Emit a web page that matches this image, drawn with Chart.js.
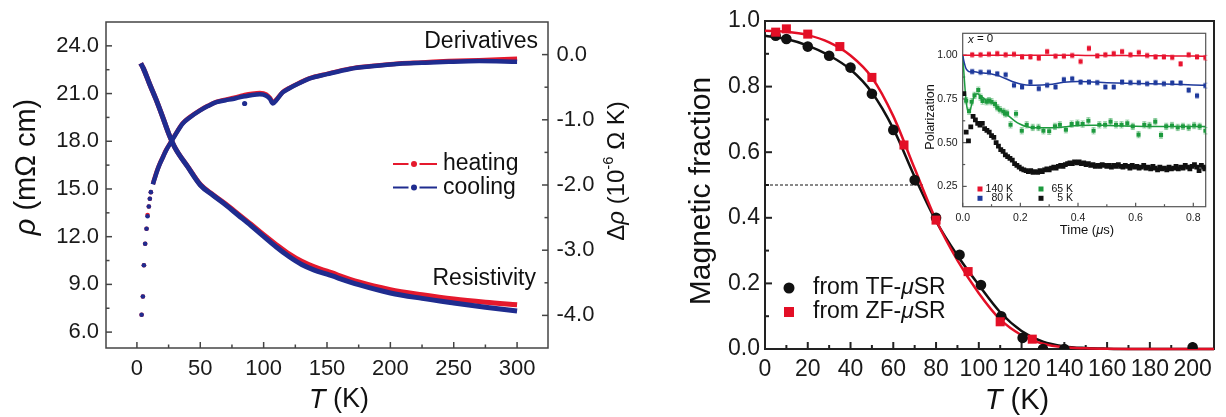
<!DOCTYPE html>
<html>
<head>
<meta charset="utf-8">
<script src="https://cdn.jsdelivr.net/npm/chart.js@4.4.0/dist/chart.umd.min.js"></script>
<style>
  body { margin: 0; background: #fff; width: 1226px; height: 417px; overflow: hidden; position: relative; }
  canvas { position: absolute; }
</style>
</head>
<body>
<canvas id="left" width="640" height="417" style="left:0;top:0"></canvas>
<canvas id="right" width="586" height="417" style="left:640px;top:0"></canvas>
<canvas id="inset" width="298" height="218" style="left:915px;top:22px"></canvas>
<script>
const FONT = '"Liberation Sans", Arial, sans-serif';
Chart.defaults.font.family = FONT;
Chart.defaults.color = "#1a1a1a";

// ---- left panel: resistivity + derivative ----
const rhoT = [3, 5, 10, 15, 20, 25, 30, 40, 50, 60, 70, 80, 90, 100, 110, 120, 130, 140, 150, 175, 200, 225, 250, 275, 300];
const rhoHeat = [22.9, 22.6, 21.6, 20.65, 19.6, 18.5, 17.6, 16.42, 15.28, 14.64, 14.05, 13.42, 12.78, 12.12, 11.5, 10.92, 10.45, 10.1, 9.83, 9.15, 8.67, 8.35, 8.08, 7.88, 7.72];
const rhoCool = [22.9, 22.6, 21.6, 20.65, 19.6, 18.5, 17.6, 16.4, 15.25, 14.6, 14.0, 13.35, 12.7, 12.02, 11.35, 10.75, 10.25, 9.9, 9.64, 8.98, 8.46, 8.12, 7.83, 7.56, 7.32];

const dLowT = [3.7, 4.7, 5.5, 6.5, 7.6, 8.4, 9.4, 10.2, 11.0];
const dLowHeat = [-3.99, -3.71, -3.23, -2.90, -2.67, -2.46, -2.33, -2.21, -2.11];
const dLowCool = [-3.99, -3.71, -3.23, -2.90, -2.67, -2.48, -2.33, -2.21, -2.11];
const dT = [12.6, 14, 16, 18, 20.5, 23, 26.8, 30, 36, 42, 49.6, 56, 62.7, 70, 75.6, 80, 85, 91, 97, 102, 105, 107.3, 110, 115, 120, 128, 136, 150, 168, 185, 207, 225, 246, 270, 300];
const dHeat = [-1.985, -1.895, -1.775, -1.675, -1.57, -1.465, -1.34, -1.235, -1.055, -0.955, -0.855, -0.785, -0.725, -0.69, -0.665, -0.645, -0.62, -0.60, -0.59, -0.61, -0.665, -0.735, -0.69, -0.575, -0.515, -0.435, -0.365, -0.295, -0.215, -0.175, -0.135, -0.12, -0.10, -0.085, -0.065];
const dCool = [-1.99, -1.9, -1.78, -1.68, -1.575, -1.47, -1.345, -1.24, -1.06, -0.96, -0.86, -0.79, -0.73, -0.70, -0.68, -0.66, -0.64, -0.62, -0.61, -0.63, -0.68, -0.75, -0.70, -0.58, -0.52, -0.44, -0.37, -0.30, -0.22, -0.18, -0.14, -0.125, -0.11, -0.10, -0.11];
const strayT = [85];
const strayCool = [-0.75];
const runLabels = ["heating", "cooling"];
const tempTicksL = [0, 50, 100, 150, 200, 250, 300];
const rhoTicks = [6, 9, 12, 15, 18, 21, 24];
const dTicks = [-4, -3, -2, -1, 0];

// ---- right panel: magnetic fraction ----
const tfT = [5, 10, 20, 30, 40, 50, 60, 70, 80, 91, 101, 110.5, 120.5, 130, 140, 200];
const tfFrac = [0.955, 0.945, 0.922, 0.894, 0.858, 0.778, 0.668, 0.515, 0.40, 0.287, 0.195, 0.10, 0.034, 0.0, 0.0, 0.005];
const zfT = [5, 10, 20, 35, 50, 65, 80, 95, 110, 125];
const zfFrac = [0.966, 0.976, 0.96, 0.922, 0.828, 0.622, 0.393, 0.236, 0.083, 0.03];
const fitT = [0, 10, 20, 30, 40, 50, 60, 70, 80, 90, 100, 110, 120, 130, 140, 150, 160, 170, 180, 190, 200, 210];
const tfFit = [0.955, 0.945, 0.925, 0.895, 0.852, 0.782, 0.672, 0.525, 0.39, 0.285, 0.195, 0.112, 0.055, 0.022, 0.008, 0.003, 0.001, 0, 0, 0, 0, 0];
const zfFit = [0.97, 0.967, 0.957, 0.935, 0.895, 0.828, 0.71, 0.55, 0.393, 0.27, 0.17, 0.09, 0.042, 0.016, 0.005, 0.002, 0.0005, 0, 0, 0, 0, 0];
const halfT = [0, 74.5];
const halfFrac = [0.5, 0.5];
const methodLabels = ["from TF-", "from ZF-"];
const tempTicksR = [0, 20, 40, 60, 80, 100, 120, 140, 160, 180, 200];
const fracTicks = [0, 0.2, 0.4, 0.6, 0.8, 1.0];

// ---- inset: ZF polarization ----
const binT = [0.033, 0.062, 0.091, 0.120, 0.149, 0.178, 0.206, 0.235, 0.264, 0.293, 0.322, 0.351, 0.380, 0.409, 0.438, 0.467, 0.495, 0.524, 0.553, 0.582, 0.611, 0.640, 0.669, 0.698, 0.727, 0.756, 0.784, 0.813, 0.842];
const p140 = [1.002, 1.002, 1.005, 1.009, 1.002, 1.005, 0.99, 0.99, 0.983, 1.02, 0.994, 0.994, 0.998, 0.964, 1.039, 0.996, 1.002, 1.009, 1.02, 1.002, 1.015, 0.998, 0.99, 0.99, 0.987, 0.95, 1.002, 0.99, 0.985];
const p80 = [0.906, 0.902, 0.902, 0.893, 0.888, 0.828, 0.818, 0.846, 0.809, 0.828, 0.818, 0.86, 0.865, 0.846, 0.846, 0.843, 0.818, 0.818, 0.846, 0.843, 0.843, 0.837, 0.843, 0.837, 0.841, 0.841, 0.80, 0.768, 0.826];
const t65 = [0.012, 0.022, 0.031, 0.041, 0.054, 0.062, 0.069, 0.083, 0.091, 0.100, 0.112, 0.120, 0.129, 0.141, 0.147, 0.154, 0.166, 0.185, 0.205, 0.222, 0.243, 0.263, 0.280, 0.300, 0.320, 0.337, 0.358, 0.378, 0.398, 0.416, 0.436, 0.454, 0.474, 0.494, 0.513, 0.532, 0.551, 0.571, 0.590, 0.610, 0.630, 0.648, 0.668, 0.688, 0.706, 0.726, 0.746, 0.764, 0.784, 0.803, 0.822, 0.842];
const p65 = [0.74, 0.68, 0.734, 0.77, 0.80, 0.76, 0.738, 0.734, 0.74, 0.734, 0.72, 0.70, 0.688, 0.678, 0.665, 0.668, 0.602, 0.665, 0.568, 0.602, 0.587, 0.587, 0.568, 0.565, 0.593, 0.602, 0.574, 0.606, 0.611, 0.606, 0.625, 0.568, 0.602, 0.602, 0.62, 0.602, 0.602, 0.611, 0.593, 0.546, 0.602, 0.598, 0.62, 0.543, 0.593, 0.598, 0.587, 0.593, 0.587, 0.598, 0.593, 0.568];
const t5 = [0.004, 0.012, 0.020, 0.028, 0.036, 0.044, 0.052, 0.060, 0.068, 0.076,
  0.084, 0.092, 0.100, 0.108, 0.116, 0.124, 0.132, 0.140, 0.148, 0.156,
  0.164, 0.172, 0.180, 0.188, 0.196, 0.204, 0.212, 0.220, 0.228, 0.236,
  0.244, 0.252, 0.260, 0.268, 0.276, 0.284, 0.292, 0.300, 0.308, 0.316,
  0.324, 0.332, 0.340, 0.348, 0.356, 0.364, 0.372, 0.380, 0.388, 0.396,
  0.404, 0.412, 0.420, 0.428, 0.436, 0.444, 0.452, 0.460, 0.468, 0.476,
  0.484, 0.492, 0.500, 0.508, 0.516, 0.524, 0.532, 0.540, 0.548, 0.556,
  0.564, 0.572, 0.580, 0.588, 0.596, 0.604, 0.612, 0.620, 0.628, 0.636,
  0.644, 0.652, 0.660, 0.668, 0.676, 0.684, 0.692, 0.700, 0.708, 0.716,
  0.724, 0.732, 0.740, 0.748, 0.756, 0.764, 0.772, 0.780, 0.788, 0.796,
  0.804, 0.812, 0.820, 0.828, 0.836, 0.840];
const p5 = [0.78, 0.56, 0.51, 0.59, 0.65, 0.63, 0.61, 0.60, 0.61, 0.58,
  0.57, 0.56, 0.54, 0.53, 0.50, 0.48, 0.46, 0.45, 0.43, 0.42,
  0.41, 0.40, 0.38, 0.37, 0.36, 0.35, 0.345, 0.34, 0.335, 0.34,
  0.33, 0.335, 0.33, 0.34, 0.335, 0.345, 0.35, 0.345, 0.355, 0.36,
  0.355, 0.365, 0.37, 0.365, 0.375, 0.38, 0.385, 0.38, 0.39, 0.385,
  0.39, 0.38, 0.385, 0.375, 0.38, 0.37, 0.375, 0.365, 0.37, 0.365,
  0.375, 0.37, 0.365, 0.37, 0.36, 0.37, 0.365, 0.375, 0.365, 0.36,
  0.37, 0.365, 0.355, 0.37, 0.36, 0.365, 0.355, 0.36, 0.37, 0.355,
  0.36, 0.35, 0.365, 0.355, 0.345, 0.36, 0.35, 0.355, 0.345, 0.36,
  0.35, 0.355, 0.365, 0.35, 0.36, 0.355, 0.37, 0.36, 0.35, 0.365,
  0.375, 0.36, 0.34, 0.37, 0.36, 0.35];
const fitTime = [0, 0.005, 0.01, 0.015, 0.02, 0.025, 0.03, 0.04, 0.05, 0.06, 0.08, 0.1, 0.12, 0.15, 0.18, 0.2, 0.22, 0.25, 0.3, 0.35, 0.4, 0.45, 0.5, 0.6, 0.7, 0.8, 0.843];
const fit140 = [1, 1, 1, 1, 1, 1, 1, 1, 1, 1, 1, 1, 1, 1, 1, 1, 1, 1, 1, 0.999, 0.999, 0.998, 0.998, 0.997, 0.996, 0.995, 0.994];
const fit80 = [1, 0.96, 0.93, 0.915, 0.908, 0.905, 0.905, 0.905, 0.903, 0.90, 0.897, 0.893, 0.885, 0.865, 0.845, 0.835, 0.83, 0.828, 0.832, 0.845, 0.85, 0.847, 0.843, 0.838, 0.835, 0.83, 0.828];
const fit65 = [1, 0.88, 0.77, 0.70, 0.675, 0.68, 0.71, 0.765, 0.78, 0.77, 0.745, 0.73, 0.705, 0.665, 0.625, 0.605, 0.592, 0.585, 0.585, 0.59, 0.598, 0.6, 0.598, 0.594, 0.592, 0.592, 0.592];
const pErr = [0.014, 0.014, 0.018];
const insetLabels = ["140 K", "80 K", "65 K", "5 K"];
const timeTicks = [0, 0.2, 0.4, 0.6, 0.8];
const polTicks = [0.25, 0.5, 0.75, 1.0];

const RED = "#e5192d", BLUE = "#1f2c8f";
const MRED = "#e30f26";
const IRED = "#e8132f", IBLUE = "#1f3a9c", IGREEN = "#1d9a3e", IBLACK = "#111";

const pts = (xs, ys) => xs.map((x, i) => ({ x: x, y: ys[i] }));

// text with italic / superscript pieces, centred on (x, y)
function rich(ctx, x, y, rot, parts, size, align) {
  ctx.save();
  ctx.translate(x, y);
  ctx.rotate(rot);
  const fontOf = p => (p[1] === "i" ? "italic " : "") + (p[1] === "s" ? size * 0.62 : size) + "px " + FONT;
  let w = 0;
  parts.forEach(p => { ctx.font = fontOf(p); w += ctx.measureText(p[0]).width; });
  let cx = align === "left" ? 0 : align === "right" ? -w : -w / 2;
  ctx.textBaseline = "middle";
  ctx.textAlign = "left";
  ctx.fillStyle = "#111";
  parts.forEach(p => {
    ctx.font = fontOf(p);
    ctx.fillText(p[0], cx, p[1] === "s" ? -size * 0.33 : 0);
    cx += ctx.measureText(p[0]).width;
  });
  ctx.restore();
}

// frame round the plot area plus inward major/minor ticks
function frame(opts) {
  return {
    id: "frame",
    beforeDatasetsDraw(chart) {
      const ctx = chart.ctx, a = chart.chartArea;
      ctx.save();
      if (opts.fill) {
        ctx.fillStyle = "#fff";
        ctx.fillRect(a.left, a.top, a.right - a.left, a.bottom - a.top);
      }
      ctx.strokeStyle = opts.color;
      ctx.lineWidth = opts.width;
      ctx.strokeRect(a.left, a.top, a.right - a.left, a.bottom - a.top);
      opts.axes.forEach(([id, side]) => {
        const s = chart.scales[id];
        const major = s.ticks.map(t => t.value);
        const minor = [];
        for (let i = 0; i < major.length - 1; i++) minor.push((major[i] + major[i + 1]) / 2);
        const mark = (v, len) => {
          const p = s.getPixelForValue(v);
          ctx.beginPath();
          if (side === "bottom") { ctx.moveTo(p, a.bottom); ctx.lineTo(p, a.bottom - len); }
          if (side === "left") { ctx.moveTo(a.left, p); ctx.lineTo(a.left + len, p); }
          if (side === "right") { ctx.moveTo(a.right, p); ctx.lineTo(a.right - len, p); }
          ctx.stroke();
        };
        major.forEach(v => mark(v, opts.major));
        minor.forEach(v => mark(v, opts.minor));
      });
      ctx.restore();
    }
  };
}

function axis(min, max, list, fmt, pad, size, fit) {
  return {
    type: "linear", min: min, max: max,
    grid: { display: false, drawTicks: false },
    border: { display: false },
    ticks: { autoSkip: false, maxRotation: 0, minRotation: 0,
      padding: pad, font: { size: size }, color: "#1a1a1a", callback: fmt },
    afterBuildTicks: s => { s.ticks = list.map(v => ({ value: v })); },
    afterFit: fit
  };
}

// ================= left chart =================
// Chart.js paints the first dataset on top, so cooling (blue) comes first
new Chart(document.getElementById("left"), {
  type: "scatter",
  data: {
    datasets: [
      { data: pts(strayT, strayCool), yAxisID: "yR", pointRadius: 2.6, backgroundColor: BLUE, borderWidth: 0 },
      { data: pts(dLowT, dLowCool), yAxisID: "yR", pointRadius: 2.3, backgroundColor: BLUE, borderWidth: 0 },
      { data: pts(dT, dCool), yAxisID: "yR", showLine: true, borderColor: BLUE, borderWidth: 4.5, pointRadius: 0, cubicInterpolationMode: "monotone" },
      { data: pts(rhoT, rhoCool), yAxisID: "yL", showLine: true, borderColor: BLUE, borderWidth: 5, pointRadius: 0, cubicInterpolationMode: "monotone" },
      { data: pts(dLowT, dLowHeat), yAxisID: "yR", pointRadius: 2.3, backgroundColor: RED, borderWidth: 0 },
      { data: pts(dT, dHeat), yAxisID: "yR", showLine: true, borderColor: RED, borderWidth: 4.5, pointRadius: 0, cubicInterpolationMode: "monotone" },
      { data: pts(rhoT, rhoHeat), yAxisID: "yL", showLine: true, borderColor: RED, borderWidth: 5, pointRadius: 0, cubicInterpolationMode: "monotone" }
    ]
  },
  options: {
    responsive: false, animation: false,
    layout: { padding: { top: 22, left: 0, right: 0, bottom: 0 } },
    plugins: { legend: { display: false }, tooltip: { enabled: false } },
    scales: {
      x: axis(-24.4, 324.4, tempTicksL, v => v, 8, 22, s => { s.height = 69; }),
      yL: Object.assign(axis(5, 25.5, rhoTicks, v => v.toFixed(1), 7, 22, s => { s.width = 106; }), { position: "left" }),
      yR: Object.assign(axis(-4.5, 0.5, dTicks, v => v.toFixed(1), 8.5, 22, s => { s.width = 92; }), { position: "right" })
    }
  },
  plugins: [
    frame({ color: "#444", width: 1.5, major: 6, minor: 3.5, axes: [["x", "bottom"], ["yL", "left"], ["yR", "right"]] }),
    {
      id: "leftText",
      afterDraw(chart) {
        const ctx = chart.ctx;
        rich(ctx, 339, 400, 0, [["T", "i"], [" (K)", ""]], 27);
        rich(ctx, 27, 167, -Math.PI / 2, [["ρ", "i"], [" (mΩ cm)", ""]], 29);
        rich(ctx, 617, 171, -Math.PI / 2, [["Δ", ""], ["ρ", "i"], [" (10", ""], ["-6", "s"], [" Ω K)", ""]], 24);
        rich(ctx, 538, 42, 0, [["Derivatives", ""]], 23, "right");
        rich(ctx, 536, 279, 0, [["Resistivity", ""]], 23, "right");
        [RED, BLUE].forEach((col, i) => {
          const y = 164 + i * 23.5;
          ctx.save();
          ctx.strokeStyle = col; ctx.lineWidth = 2;
          ctx.beginPath(); ctx.moveTo(393, y); ctx.lineTo(408.5, y); ctx.moveTo(419.5, y); ctx.lineTo(437, y); ctx.stroke();
          ctx.fillStyle = col;
          ctx.beginPath(); ctx.arc(414, y, 3, 0, Math.PI * 2); ctx.fill();
          ctx.restore();
          rich(ctx, 443, y, 0, [[runLabels[i], ""]], 23, "left");
        });
      }
    }
  ]
});

// ================= right chart =================
new Chart(document.getElementById("right"), {
  type: "scatter",
  data: {
    datasets: [
      { data: pts(zfT, zfFrac), pointRadius: 6.4, pointStyle: "rect", backgroundColor: MRED, borderWidth: 0 },
      { data: pts(tfT, tfFrac), pointRadius: 5.3, backgroundColor: "#111", borderWidth: 0 },
      { data: pts(fitT, zfFit), showLine: true, borderColor: MRED, borderWidth: 2.5, pointRadius: 0, cubicInterpolationMode: "monotone", clip: false },
      { data: pts(fitT, tfFit), showLine: true, borderColor: "#111", borderWidth: 2.5, pointRadius: 0, cubicInterpolationMode: "monotone", clip: false },
      { data: pts(halfT, halfFrac), showLine: true, borderColor: "#111", borderWidth: 1, borderDash: [3, 2], pointRadius: 0 }
    ]
  },
  options: {
    responsive: false, animation: false,
    layout: { padding: { top: 21, left: 0, right: 12, bottom: 0 } },
    plugins: { legend: { display: false }, tooltip: { enabled: false } },
    scales: {
      x: axis(0, 210, tempTicksR, v => v, 7, 23, s => { s.height = 68; }),
      y: Object.assign(axis(0, 1, fracTicks, v => v.toFixed(1), 5, 23, s => { s.width = 125; }), { position: "left" })
    }
  },
  plugins: [
    frame({ color: "#222", width: 2, major: 7, minor: 4, axes: [["x", "bottom"], ["y", "left"]] }),
    {
      id: "rightText",
      afterDraw(chart) {
        const ctx = chart.ctx;
        rich(ctx, 377, 401, 0, [["T", "i"], [" (K)", ""]], 29);
        rich(ctx, 62, 191, -Math.PI / 2, [["Magnetic fraction", ""]], 30);
        ctx.save();
        ctx.fillStyle = "#111";
        ctx.beginPath(); ctx.arc(149, 288, 5.5, 0, Math.PI * 2); ctx.fill();
        ctx.fillStyle = MRED;
        ctx.fillRect(144, 307, 10, 10);
        ctx.restore();
        [288, 312].forEach((y, i) => {
          rich(ctx, 173, y, 0, [[methodLabels[i], ""], ["μ", "i"], ["SR", ""]], 23, "left");
        });
      }
    }
  ]
});

// ================= inset =================
function errSet(t, p, col, err) {
  return { data: pts(t, p), pointRadius: 2.9, pointStyle: "rect", backgroundColor: col, borderWidth: 0, err: err };
}
new Chart(document.getElementById("inset"), {
  type: "scatter",
  data: {
    datasets: [
      errSet(binT, p140, IRED, pErr[0]),
      errSet(binT, p80, IBLUE, pErr[1]),
      errSet(t65, p65, IGREEN, pErr[2]),
      { data: pts(t5, p5), pointRadius: 3.4, pointStyle: "rect", backgroundColor: IBLACK, borderWidth: 0 },
      { data: pts(fitTime, fit140), showLine: true, borderColor: IRED, borderWidth: 1.5, pointRadius: 0, cubicInterpolationMode: "monotone" },
      { data: pts(fitTime, fit80), showLine: true, borderColor: IBLUE, borderWidth: 1.5, pointRadius: 0, cubicInterpolationMode: "monotone" },
      { data: pts(fitTime, fit65), showLine: true, borderColor: IGREEN, borderWidth: 1.5, pointRadius: 0, cubicInterpolationMode: "monotone" }
    ]
  },
  options: {
    responsive: false, animation: false,
    layout: { padding: { top: 8, left: 0, right: 7.3, bottom: 0 } },
    plugins: { legend: { display: false }, tooltip: { enabled: false } },
    scales: {
      x: axis(0, 0.843, timeTicks, v => v.toFixed(1), 5, 10.5, s => { s.height = 33.3; }),
      y: Object.assign(axis(0.134, 1.125, polTicks, v => v.toFixed(2), 5, 10.5, s => { s.width = 47.7; }), { position: "left" })
    }
  },
  plugins: [
    frame({ fill: true, color: "#555", width: 1.2, major: 4, minor: 2.5, axes: [["x", "bottom"], ["y", "left"]] }),
    {
      id: "errorBars",
      beforeDatasetsDraw(chart) {
        const ctx = chart.ctx, ys = chart.scales.y;
        ctx.save();
        chart.data.datasets.forEach((ds, di) => {
          if (!ds.err) return;
          ctx.strokeStyle = ds.backgroundColor;
          ctx.globalAlpha = 0.45;
          ctx.lineWidth = 1;
          chart.getDatasetMeta(di).data.forEach((el, i) => {
            const v = ds.data[i].y;
            const y1 = ys.getPixelForValue(v + ds.err), y2 = ys.getPixelForValue(v - ds.err);
            ctx.beginPath();
            ctx.moveTo(el.x, y1); ctx.lineTo(el.x, y2);
            ctx.moveTo(el.x - 2, y1); ctx.lineTo(el.x + 2, y1);
            ctx.moveTo(el.x - 2, y2); ctx.lineTo(el.x + 2, y2);
            ctx.stroke();
          });
        });
        ctx.restore();
      },
      afterDraw(chart) {
        const ctx = chart.ctx;
        rich(ctx, 172, 208, 0, [["Time (", ""], ["μ", "i"], ["s)", ""]], 13);
        rich(ctx, 16, 95, -Math.PI / 2, [["Polarization", ""]], 12.5);
        rich(ctx, 53, 17.3, 0, [["x", "i"], [" = 0", ""]], 11.5, "left");
        const cols = [IRED, IBLUE, IGREEN, IBLACK];
        insetLabels.forEach((lab, i) => {
          const col = i < 2 ? 0 : 1;
          const row = i % 2;
          const sx = [65, 126][col], tx = [98, 158][col];
          const y = 167 + row * 9.3;
          ctx.fillStyle = cols[i];
          ctx.fillRect(sx - 2.5, y - 2.5, 5, 5);
          rich(ctx, tx, y, 0, [[lab, ""]], 10.5, "right");
        });
      }
    }
  ]
});
</script>
</body>
</html>
